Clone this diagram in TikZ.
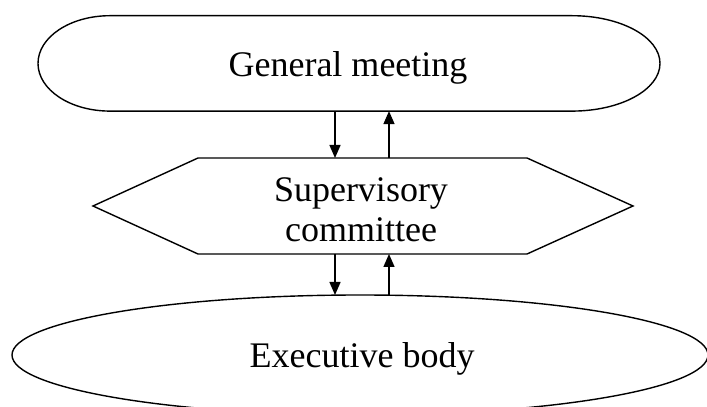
\documentclass[tikz,border=0pt]{standalone}
\usepackage{fontspec}
\setmainfont{Liberation Serif}
\usetikzlibrary{arrows.meta}
\begin{document}
\begin{tikzpicture}[x=1pt,y=1pt,line width=1.4pt,
  lbl/.style={font=\fontsize{36}{40}\selectfont,inner sep=0pt,align=center},
  link/.style={-{Triangle[length=13pt,width=11pt]}}]
\useasboundingbox (0,0) rectangle (707,407);
\fill[white] (0,0) rectangle (707,407);
\begin{scope}
\clip (0,0) rectangle (707,407);
% General meeting shape
\draw (110,391.3) -- (572,391.3)
  arc[start angle=90,end angle=-90,x radius=88pt,y radius=47.7pt]
  -- (110,295.9)
  arc[start angle=270,end angle=90,x radius=72pt,y radius=47.7pt] -- cycle;
% Supervisory committee hexagon
\draw (93,201) -- (198,249) -- (527,249) -- (633,201) -- (527,153) -- (198,153) -- cycle;
% Executive body ellipse
\draw (360,52) ellipse[x radius=348pt,y radius=60pt];
\end{scope}
% texts
\node[lbl,anchor=base] (gm) at (348,330) {General meeting};
\node[lbl] (sc) at (361,197.3) {Supervisory\\committee};
\node[lbl,anchor=base] (eb) at (362,39) {Executive body};
% connector ends on the outlines
\coordinate (gmA) at (335,295.9);
\coordinate (gmB) at (389,295.9);
\coordinate (scTA) at (335,249);
\coordinate (scTB) at (389,249);
\coordinate (scBA) at (335,153);
\coordinate (scBB) at (389,153);
\coordinate (ebA) at (335,112);
\coordinate (ebB) at (389,112);
% connectors
\draw[link] (gmA) -- (scTA);
\draw[link] (scTB) -- (gmB);
\draw[link] (scBA) -- (ebA);
\draw[link] (ebB) -- (scBB);
\end{tikzpicture}
\end{document}
